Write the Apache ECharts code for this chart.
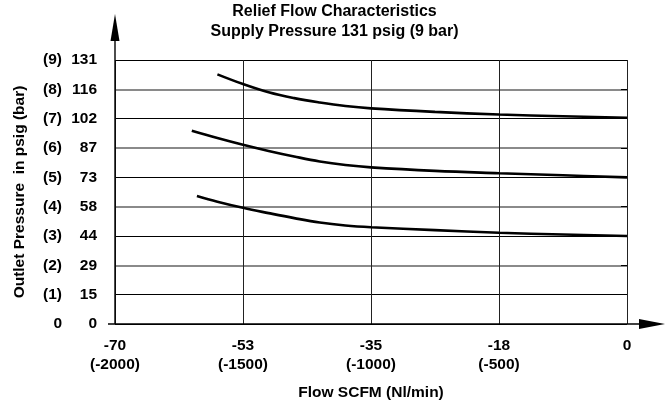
<!DOCTYPE html>
<html><head><meta charset="utf-8">
<script src="https://cdn.jsdelivr.net/npm/echarts@6/dist/echarts.min.js"></script>
<style>html,body{margin:0;padding:0;background:#fff}#c{width:669px;height:406px}</style>
</head><body><div id="c"></div>
<script>
// ---- data ----
const titleLines = ['Relief Flow Characteristics', 'Supply Pressure 131 psig (9 bar)'];
const xAxisName = 'Flow SCFM (Nl/min)';
const yAxisName = 'Outlet Pressure  in psig (bar)';
const xTickScfm = ['-70', '-53', '-35', '-18', '0'];
const xTickNl = ['(-2000)', '(-1500)', '(-1000)', '(-500)', ''];
const yTickBar = ['0', '(1)', '(2)', '(3)', '(4)', '(5)', '(6)', '(7)', '(8)', '(9)'];
const yTickPsi = ['0', '15', '29', '44', '58', '73', '87', '102', '116', '131'];

// flow in Nl/min, outlet pressure in bar
const flowHigh = [-1600, -1500, -1400, -1300, -1200, -1100, -1000, -750, -500, -250, 0];
const presHigh = [8.51, 8.18, 7.90, 7.70, 7.55, 7.43, 7.35, 7.23, 7.14, 7.08, 7.03];
const flowMid = [-1700, -1600, -1500, -1400, -1300, -1200, -1100, -1000, -750, -500, -250, 0];
const presMid = [6.59, 6.34, 6.11, 5.90, 5.71, 5.54, 5.42, 5.34, 5.22, 5.14, 5.07, 5.00];
const flowLow = [-1680, -1600, -1500, -1400, -1300, -1200, -1100, -1000, -750, -500, -250, 0];
const presLow = [4.36, 4.17, 3.96, 3.78, 3.61, 3.46, 3.36, 3.30, 3.20, 3.11, 3.05, 3.00];

const FONT = '"Liberation Sans", Arial, Helvetica, sans-serif';
const FS = 15.5;
const zip = (a, b) => a.map((v, i) => [v, b[i]]);

const chart = echarts.init(document.getElementById('c'), null, {renderer: 'canvas'});

function lineSeries(x, y) {
  return {
    type: 'line', data: zip(x, y), showSymbol: false, smooth: 0.4,
    lineStyle: {color: '#000', width: 2.6}, itemStyle: {color: '#000'},
    silent: true, z: 5
  };
}

const txt = {fontFamily: FONT, fontWeight: 'bold', fontSize: FS, color: '#000'};
const clear = 'rgba(0,0,0,0)';

const option = {
  animation: false,
  backgroundColor: '#fff',
  title: {
    text: titleLines.join('\n'),
    left: 'center', top: 1.5, padding: 0,
    textStyle: Object.assign({}, txt, {fontSize: 16, lineHeight: 20})
  },
  grid: {left: 115, right: 42, top: 60, bottom: 82},
  xAxis: {
    type: 'value', min: -2000, max: 0, interval: 500,
    name: xAxisName, nameLocation: 'middle', nameGap: 61,
    nameTextStyle: txt,
    axisLine: {show: false}, axisTick: {show: false},
    axisLabel: Object.assign({
      margin: 12, lineHeight: 19,
      formatter: v => {
        const i = Math.round((v + 2000) / 500);
        return xTickNl[i] ? xTickScfm[i] + '\n' + xTickNl[i] : xTickScfm[i];
      }
    }, txt),
    splitLine: {show: true, lineStyle: {color: '#222', width: 1}}
  },
  yAxis: [{
    type: 'value', min: 0, max: 9, interval: 1,
    name: yAxisName, nameLocation: 'middle', nameGap: 87, nameRotate: 90,
    nameTextStyle: txt,
    axisLine: {show: false},
    axisTick: {show: true, length: 6, lineStyle: {color: '#000', width: 1}},
    axisLabel: {
      margin: 18,
      formatter: v => {
        const i = Math.round(v);
        return '{a|' + yTickBar[i] + '}{b|' + yTickPsi[i] + '}';
      },
      rich: {
        a: Object.assign({width: 30, align: 'right'}, txt),
        b: Object.assign({width: 35, align: 'right'}, txt)
      }
    },
    splitLine: {show: true, lineStyle: {color: ['#000', '#000', clear, '#000', clear, '#000', clear, '#000', clear, '#000'], width: 1}}
  }, {
    type: 'value', min: 0, max: 9, interval: 1, position: 'left',
    axisLine: {show: false}, axisTick: {show: false}, axisLabel: {show: false},
    splitLine: {show: true, lineStyle: {color: [clear, clear, '#8a8a8a', clear, '#8a8a8a', clear, '#8a8a8a', clear, '#8a8a8a', clear], width: 2}}
  }],
  series: [lineSeries(flowHigh, presHigh), lineSeries(flowMid, presMid), lineSeries(flowLow, presLow)]
};
chart.setOption(option);

// axis lines with arrow heads, placed from the grid's own scale
const o = chart.convertToPixel({gridIndex: 0}, [-2000, 0]);
const xe = chart.convertToPixel({gridIndex: 0}, [0, 0]);
const yt = chart.convertToPixel({gridIndex: 0}, [-2000, 9]);
const ox = o[0], oy = o[1];
const xEnd = xe[0] + 13, yTop = yt[1] - 20;
chart.setOption({
  graphic: [
    {type: 'line', shape: {x1: ox - 7, y1: oy, x2: xEnd, y2: oy}, style: {stroke: '#000', lineWidth: 1.4}, z: 10},
    {type: 'polygon', shape: {points: [[xEnd - 1, oy - 5], [xEnd + 25, oy], [xEnd - 1, oy + 5]]}, style: {fill: '#000'}, z: 10},
    {type: 'line', shape: {x1: ox, y1: oy, x2: ox, y2: yTop}, style: {stroke: '#000', lineWidth: 1.4}, z: 10},
    {type: 'polygon', shape: {points: [[ox - 4.5, yTop + 1], [ox, yTop - 26], [ox + 4.5, yTop + 1]]}, style: {fill: '#000'}, z: 10}
  ]
});
</script>
</body></html>
